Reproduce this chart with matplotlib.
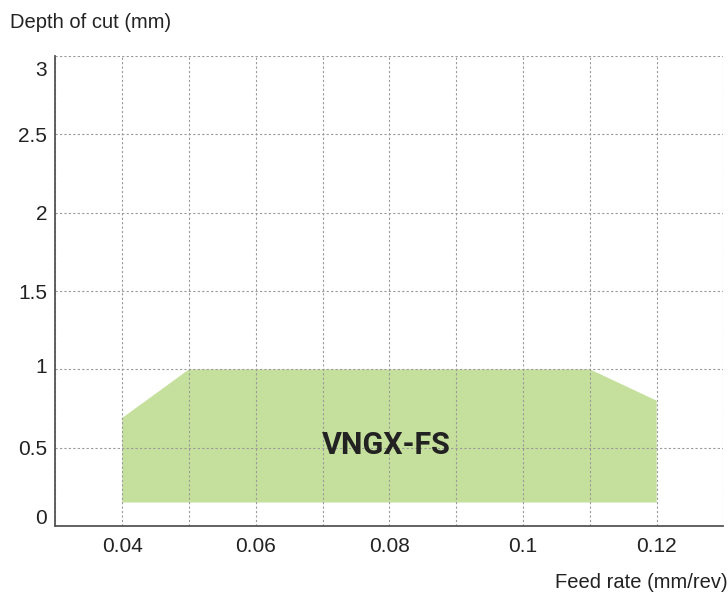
import matplotlib.pyplot as plt
from matplotlib.ticker import MultipleLocator
from matplotlib.transforms import ScaledTranslation

plt.rcParams['font.family'] = ['Liberation Sans', 'DejaVu Sans']

# application range polygon (feed rate, depth of cut)
feed = [0.04, 0.04, 0.05, 0.11, 0.12, 0.12]
depth = [0.15, 0.69, 1.0, 1.0, 0.8, 0.15]

x_ticks = [0.04, 0.06, 0.08, 0.1, 0.12]
x_labels = ['0.04', '0.06', '0.08', '0.1', '0.12']
y_ticks = [0, 0.5, 1, 1.5, 2, 2.5, 3]
y_labels = ['0', '0.5', '1', '1.5', '2', '2.5', '3']

label = 'VNGX-FS'
green = '#C5E09C'

fig = plt.figure(figsize=(7.28, 5.96), dpi=100)
ax = fig.add_axes([0.0762, 0.1174, 0.9176, 0.7886])

ax.fill(feed, depth, color=green, linewidth=0, zorder=1)

ax.set_xlim(0.03, 0.13)
ax.set_ylim(0, 3)
ax.set_xticks(x_ticks)
ax.set_xticklabels(x_labels)
ax.xaxis.set_minor_locator(MultipleLocator(0.01))
ax.set_yticks(y_ticks)
ax.set_yticklabels(y_labels)

ax.grid(True, which='both', axis='x', linestyle=(0, (2, 2)), color='#9a9a9a', linewidth=0.8, zorder=2)
ax.grid(True, which='major', axis='y', linestyle=(0, (2, 2)), color='#9a9a9a', linewidth=0.8, zorder=2)
ax.set_axisbelow(False)

ax.tick_params(which='both', length=0, labelsize=15, colors='#222222')
ax.tick_params(axis='x', pad=8)
ax.tick_params(axis='y', pad=6)

# end labels sit inside the axis range in the original
shifts = {'0': 10, '1': 4, '3': -12}
for t in ax.get_yticklabels():
    dy = shifts.get(t.get_text(), 0)
    if dy:
        t.set_transform(t.get_transform() + ScaledTranslation(0, dy / 100, fig.dpi_scale_trans))

for side in ['top', 'right']:
    ax.spines[side].set_visible(False)
for side in ['left', 'bottom']:
    ax.spines[side].set_color('#555555')
    ax.spines[side].set_linewidth(1.3)
    ax.spines[side].set_zorder(3)

ax.text(0.0795, 0.52, label, fontsize=22, fontweight='bold', ha='center', va='center',
        color='#222222', family=['Roboto', 'Liberation Sans', 'DejaVu Sans'], zorder=4)

fig.text(10 / 728, 1 - 22 / 596, 'Depth of cut (mm)', fontsize=14.5, ha='left', va='center', color='#222222')
fig.text(1.0, 1 - 582 / 596, 'Feed rate (mm/rev)', fontsize=14.5, ha='right', va='center', color='#222222')

fig.savefig('out.png', dpi=100)
